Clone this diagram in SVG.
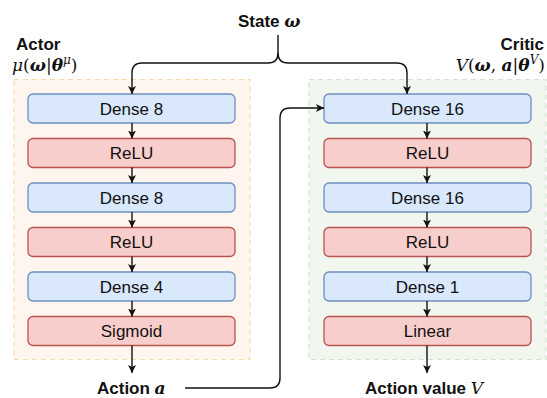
<svg xmlns="http://www.w3.org/2000/svg" width="547" height="398" viewBox="0 0 547 398">
<style>
.lbl{font-family:"Liberation Sans",Arial,sans-serif;font-size:17px;fill:#111;text-anchor:middle;}
.bold{font-family:"Liberation Sans",Arial,sans-serif;font-size:17px;font-weight:bold;fill:#111;}
.math{font-family:"DejaVu Serif","Liberation Serif",serif;font-style:italic;font-size:17px;fill:#111;}
.up{font-style:normal;font-weight:normal;}
.bm{font-weight:bold;font-style:italic;}
.dense{fill:#dae8fc;stroke:#6c8ebf;stroke-width:1.3;}
.act{fill:#f8cecc;stroke:#b85450;stroke-width:1.3;}
.conn{fill:none;stroke:#111;stroke-width:1.4;}
</style>
<defs>
<marker id="arr" markerUnits="userSpaceOnUse" markerWidth="10" markerHeight="10" refX="8" refY="5" orient="auto">
<path d="M0,1 L8,5 L0,9 L2,5 Z" fill="#111"/>
</marker>
</defs>

<g id="actor-container">
<rect x="14" y="79.5" width="236" height="280" fill="#fef6ee" stroke="#f5dca4" stroke-width="1.2" stroke-dasharray="5,4"/>
<text class="bold" x="16" y="50">Actor</text>
<text class="math" x="12" y="71">μ<tspan class="up">(</tspan><tspan class="bm">ω</tspan><tspan class="up">|</tspan><tspan class="bm">θ</tspan><tspan font-size="12" dy="-7">μ</tspan><tspan class="up" dy="7">)</tspan></text>
</g>

<g id="critic-container">
<rect x="309" y="79.5" width="237" height="280" fill="#f1f7ee" stroke="#d0e4cc" stroke-width="1.2" stroke-dasharray="5,4"/>
<text class="bold" x="544" y="50" text-anchor="end">Critic</text>
<text class="math" x="545" y="71" text-anchor="end">V<tspan class="up">(</tspan><tspan class="bm">ω</tspan><tspan class="up">, </tspan><tspan class="bm">a</tspan><tspan class="up">|</tspan><tspan class="bm">θ</tspan><tspan font-size="12" dy="-7">V</tspan><tspan class="up" dy="7">)</tspan></text>
</g>

<g id="a-dense8-1"><rect class="dense" x="28" y="94" width="207" height="29" rx="5"/><text class="lbl" x="131.5" y="114.5">Dense 8</text></g>
<g id="a-relu-1"><rect class="act" x="28" y="138.5" width="207" height="29" rx="5"/><text class="lbl" x="131.5" y="159">ReLU</text></g>
<g id="a-dense8-2"><rect class="dense" x="28" y="183" width="207" height="29" rx="5"/><text class="lbl" x="131.5" y="203.5">Dense 8</text></g>
<g id="a-relu-2"><rect class="act" x="28" y="227.5" width="207" height="29" rx="5"/><text class="lbl" x="131.5" y="248">ReLU</text></g>
<g id="a-dense4"><rect class="dense" x="28" y="272" width="207" height="29" rx="5"/><text class="lbl" x="131.5" y="292.5">Dense 4</text></g>
<g id="a-sigmoid"><rect class="act" x="28" y="316.5" width="207" height="29" rx="5"/><text class="lbl" x="131.5" y="337">Sigmoid</text></g>

<g id="c-dense16-1"><rect class="dense" x="324" y="94" width="207" height="29" rx="5"/><text class="lbl" x="427.5" y="114.5">Dense 16</text></g>
<g id="c-relu-1"><rect class="act" x="324" y="138.5" width="207" height="29" rx="5"/><text class="lbl" x="427.5" y="159">ReLU</text></g>
<g id="c-dense16-2"><rect class="dense" x="324" y="183" width="207" height="29" rx="5"/><text class="lbl" x="427.5" y="203.5">Dense 16</text></g>
<g id="c-relu-2"><rect class="act" x="324" y="227.5" width="207" height="29" rx="5"/><text class="lbl" x="427.5" y="248">ReLU</text></g>
<g id="c-dense1"><rect class="dense" x="324" y="272" width="207" height="29" rx="5"/><text class="lbl" x="427.5" y="292.5">Dense 1</text></g>
<g id="c-linear"><rect class="act" x="324" y="316.5" width="207" height="29" rx="5"/><text class="lbl" x="427.5" y="337">Linear</text></g>

<g id="state">
<text class="bold" x="238" y="27">State <tspan class="math bm" font-size="18">ω</tspan></text>
</g>
<g id="action">
<text class="bold" x="97" y="394">Action <tspan class="math bm" font-size="19">a</tspan></text>
</g>
<g id="action-value">
<text class="bold" x="365" y="394">Action value <tspan class="math" font-size="19" font-weight="normal">V</tspan></text>
</g>

<g id="connectors">
<path class="conn" d="M278,35 V53 Q278,63 268,63 H142 Q132,63 132,73 V94" marker-end="url(#arr)"/>
<path class="conn" d="M278,53 Q278,63 288,63 H397 Q407,63 407,73 V94" marker-end="url(#arr)"/>
<path class="conn" d="M132,123 V138.5" marker-end="url(#arr)"/>
<path class="conn" d="M132,167.5 V183" marker-end="url(#arr)"/>
<path class="conn" d="M132,212 V227.5" marker-end="url(#arr)"/>
<path class="conn" d="M132,256.5 V272" marker-end="url(#arr)"/>
<path class="conn" d="M132,301 V316.5" marker-end="url(#arr)"/>
<path class="conn" d="M132,345.5 V373" marker-end="url(#arr)"/>
<path class="conn" d="M427,123 V138.5" marker-end="url(#arr)"/>
<path class="conn" d="M427,167.5 V183" marker-end="url(#arr)"/>
<path class="conn" d="M427,212 V227.5" marker-end="url(#arr)"/>
<path class="conn" d="M427,256.5 V272" marker-end="url(#arr)"/>
<path class="conn" d="M427,301 V316.5" marker-end="url(#arr)"/>
<path class="conn" d="M427,345.5 V373" marker-end="url(#arr)"/>
<path class="conn" d="M185,388 H270 Q280,388 280,378 V118 Q280,108 290,108 H324" marker-end="url(#arr)"/>
</g>
</svg>
